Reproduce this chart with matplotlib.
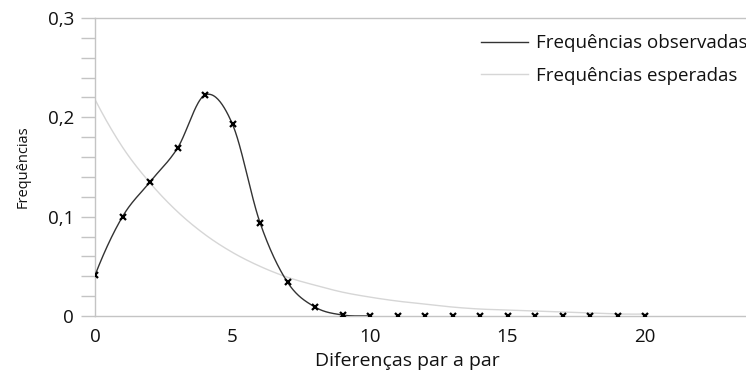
import matplotlib

matplotlib.use("Agg")

import matplotlib.pyplot as plt
import matplotlib.ticker as mticker
import numpy as np

plt.rcParams["font.family"] = ["Open Sans", "DejaVu Sans"]

# Pairwise differences (mismatch distribution)
differences = list(range(0, 21))
observed = [0.041, 0.100, 0.135, 0.169, 0.2225, 0.193, 0.094, 0.034, 0.009, 0.001,
            0.0, 0.0, 0.0, 0.0, 0.0, 0.0, 0.0, 0.0, 0.0, 0.0, 0.0]
expected = [0.218, 0.170, 0.134, 0.105, 0.082, 0.064, 0.050, 0.039, 0.031, 0.024,
            0.019, 0.015, 0.012, 0.009, 0.007, 0.006, 0.005, 0.004, 0.003, 0.002, 0.002]

legend_labels = ["Frequências observadas", "Frequências esperadas"]
x_label = "Diferenças par a par"
y_label = "Frequências"


def smooth_curve(x, y, xs):
    """Cubic Hermite curve with Catmull-Rom tangents through the points."""
    x = np.asarray(x, float)
    y = np.asarray(y, float)
    h = np.diff(x)
    d = np.diff(y) / h
    m = np.empty_like(y)
    m[1:-1] = (y[2:] - y[:-2]) / (x[2:] - x[:-2])
    # parabolic end tangents
    m[0] = 2 * d[0] - m[1]
    m[-1] = 2 * d[-1] - m[-2]
    idx = np.clip(np.searchsorted(x, xs) - 1, 0, len(h) - 1)
    t = (xs - x[idx]) / h[idx]
    h00 = 2 * t**3 - 3 * t**2 + 1
    h10 = t**3 - 2 * t**2 + t
    h01 = -2 * t**3 + 3 * t**2
    h11 = t**3 - t**2
    out = (h00 * y[idx] + h10 * h[idx] * m[idx]
           + h01 * y[idx + 1] + h11 * h[idx] * m[idx + 1])
    return np.clip(out, 0, None)


xs = np.linspace(0, 20, 801)
obs_smooth = smooth_curve(differences, observed, xs)
exp_smooth = smooth_curve(differences, expected, xs)
obs_mask = xs <= 10

fig = plt.figure(figsize=(7.46, 3.72), dpi=100)
ax = fig.add_axes([95 / 746, 56 / 372, 651 / 746, 298 / 372])

axis_grey = "#c4c4c4"
text_col = "#111111"

ax.plot(xs, exp_smooth, color="#d6d6d6", lw=1.0, zorder=2, label=legend_labels[1])
ax.plot(xs[obs_mask], obs_smooth[obs_mask], color="#333333", lw=1.0, zorder=3,
        label=legend_labels[0])
ax.plot(differences, observed, ls="none", marker="x", ms=5, mew=1.6,
        color="black", zorder=4)

ax.set_xlim(0, 651 / 27.5)
ax.set_ylim(0, 0.3)

ax.set_xticks([0, 5, 10, 15, 20])
ax.set_yticks([0, 0.1, 0.2, 0.3])
ax.yaxis.set_minor_locator(mticker.MultipleLocator(0.02))
ax.yaxis.set_major_formatter(
    mticker.FuncFormatter(lambda v, _: "0" if abs(v) < 1e-9 else f"{v:.1f}".replace(".", ",")))

ax.tick_params(axis="x", length=0, pad=9, labelsize=13.5, colors=text_col)
ax.tick_params(axis="y", which="both", length=10, width=1, color=axis_grey,
               pad=5, labelsize=13.5, labelcolor=text_col)

for side in ("left", "bottom", "top"):
    ax.spines[side].set_color(axis_grey)
    ax.spines[side].set_linewidth(1.0)
ax.spines["right"].set_visible(False)

ax.set_xlabel(x_label, fontsize=14, color=text_col, va="top")
ax.xaxis.set_label_coords(312 / 651, -36 / 298)
ax.set_ylabel(y_label, fontsize=10.5, color=text_col, labelpad=12)

handles, labels = ax.get_legend_handles_labels()
ax.legend(handles[::-1], labels[::-1], loc="upper right",
          bbox_to_anchor=(1.0 + 9 / 651, 1.0 - 9 / 298), frameon=False,
          fontsize=13.5, handlelength=2.5, handletextpad=0.45,
          labelspacing=0.75, borderaxespad=0.0, labelcolor=text_col)

fig.savefig("out.png", dpi=100)
